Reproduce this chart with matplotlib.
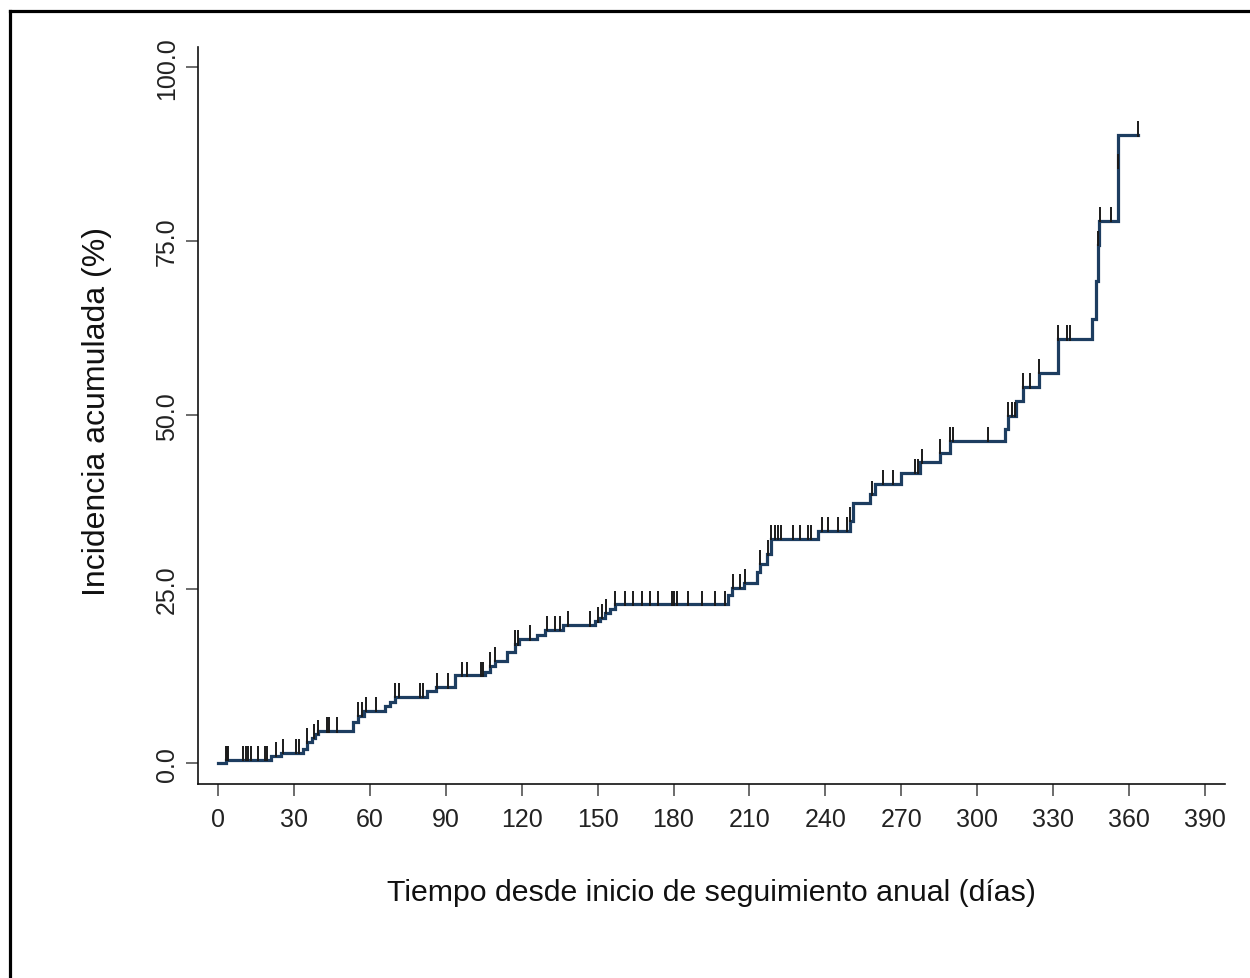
import numpy as np
import matplotlib
matplotlib.use("Agg")
import matplotlib.pyplot as plt
from matplotlib.lines import Line2D

# Event times (days) and cumulative incidence (%) after each step
event_times = [0, 3, 21, 25, 33.7, 35, 37, 38.5, 39.6, 53.4, 55.5, 57.5, 66, 68, 70,
               82.5, 86, 93.6, 105.4, 107.5, 109.4, 114, 117.3, 118.8, 125.9, 129.2,
               136.4, 149, 150.9, 152.9, 154.9, 156.8, 201.6, 203.2, 208, 212.8, 214,
               216.8, 218.7, 237.2, 249.7, 251, 257.6, 259.6, 270, 277.4, 285.3, 289.2,
               311, 312.3, 315.5, 318, 324.5, 332, 345.2, 346.9, 347.6, 348.2, 355.6,
               355.7]
incidence = [0, 0.5, 1.05, 1.5, 2.0, 3.0, 3.6, 4.2, 4.6, 5.9, 6.8, 7.5, 8.2, 8.8, 9.5,
             10.3, 10.9, 12.6, 13.1, 13.9, 14.7, 15.9, 17.1, 17.8, 18.4, 19.2,
             19.8, 20.4, 20.9, 21.6, 22.1, 22.8, 24.2, 25.2, 25.9, 27.4, 28.6,
             30.0, 32.2, 33.4, 34.8, 37.4, 38.6, 40.1, 41.7, 43.2, 44.6, 46.3,
             48.0, 49.9, 52.1, 54.0, 56.1, 60.9, 63.8, 69.3, 74.5, 77.9, 85.5,
             90.2]
end_time = 363.5

# Censoring times (days)
censor_times = [3, 3.5, 4, 10, 11, 12, 13, 16, 18.5, 19.5, 23, 25.6, 31, 32, 35, 38,
                39.5, 43, 44, 46.9, 55.5, 57, 58.5, 62.6, 70, 71.5, 80, 81, 86.4, 91,
                96.3, 98.2, 104, 104.8, 107.5, 109.4, 117.3, 118.6, 123.3, 129.9,
                133.1, 135.1, 138.4, 146.9, 150.3, 151.6, 153.5, 156.8, 160.8, 164,
                167.4, 170.7, 174, 179.3, 180.2, 181.2, 185.8, 191.1, 196.3, 200.3,
                203.5, 206.2, 208.2, 214.1, 217.4, 218.7, 220, 221.3, 222.3, 227.3,
                229.9, 233.2, 234.5, 238.5, 241.2, 245.1, 248.4, 249.7, 258.3, 262.9,
                266.8, 275.4, 276.7, 278, 285.3, 289.2, 290.5, 304.3, 312.3, 313.6,
                315, 318.2, 321, 324.5, 332, 335.3, 336.6, 347.7, 348.5, 353, 355.65,
                363.5]

x_ticks = list(range(0, 391, 30))
y_ticks = [0, 25, 50, 75, 100]
x_label = "Tiempo desde inicio de seguimiento anual (días)"
y_label = "Incidencia acumulada (%)"

plt.rcParams['font.family'] = ['Liberation Sans', 'DejaVu Sans']

W, H = 1250, 979
fig = plt.figure(figsize=(W / 100, H / 100), dpi=100)
fig.patch.set_facecolor('white')

l, r, b, t = 198 / W, 1225 / W, 1 - 785 / H, 1 - 48 / H
ax = fig.add_axes([l, b, r - l, t - b])

tt = np.array(event_times + [end_time])
yy = np.array(incidence + [incidence[-1]])
ax.step(tt, yy, where='post', color='#1d3d60', lw=2.3, solid_joinstyle='miter',
        zorder=3)

ct = np.array(censor_times)
idx = np.searchsorted(np.array(event_times), ct, side='right') - 1
cy = np.array(incidence)[idx]
ax.vlines(ct, cy - 0.2, cy + 2.0, color='#1a1a1a', lw=1.4, zorder=4)

ax.set_xlim(-7.9, 397.9)
ax.set_ylim(-3.0, 102.9)
ax.set_xticks(x_ticks)
ax.set_xticklabels([str(v) for v in x_ticks])
ax.set_yticks(y_ticks)
ax.set_yticklabels([f"{v:.1f}" for v in y_ticks], rotation=90, va='center')

for s in ['top', 'right']:
    ax.spines[s].set_visible(False)
for s in ['left', 'bottom']:
    ax.spines[s].set_linewidth(1.2)
    ax.spines[s].set_color('#111111')

ax.tick_params(axis='both', direction='out', length=8.6, width=1.1,
               color='#444444', labelsize=18, labelcolor='#222222')
ax.tick_params(axis='x', pad=8)
ax.tick_params(axis='y', pad=5)

ax.set_xlabel(x_label, fontsize=21.8, color='#111111', va='center')
ax.xaxis.set_label_coords(0.5, (785 - 893) / 737)
ax.set_ylabel(y_label, fontsize=23, color='#111111', va='center')
ax.yaxis.set_label_coords((97 - 198) / 1027, (785 - 412) / 737)

# Figure frame (left and top edges)
fig.add_artist(Line2D([9.5 / W, 9.5 / W], [0, 1 - 12 / H], transform=fig.transFigure,
                      color='black', lw=2.3, solid_capstyle='projecting'))
fig.add_artist(Line2D([9.5 / W, 1], [1 - 12 / H, 1 - 12 / H], transform=fig.transFigure,
                      color='black', lw=2.3, solid_capstyle='projecting'))

fig.savefig('out.png', dpi=100, facecolor='white')
